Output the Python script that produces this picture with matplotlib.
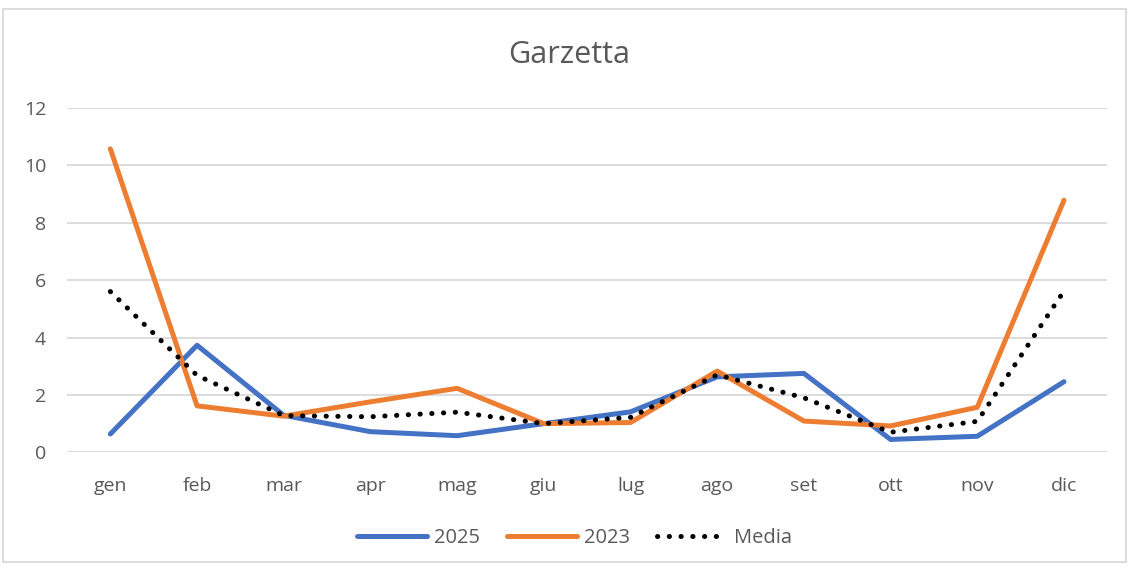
import matplotlib.pyplot as plt
from matplotlib.patches import Rectangle

months = ['gen', 'feb', 'mar', 'apr', 'mag', 'giu', 'lug', 'ago', 'set', 'ott', 'nov', 'dic']
y2025 = [0.64, 3.73, 1.29, 0.72, 0.58, 1.0, 1.41, 2.63, 2.75, 0.45, 0.56, 2.46]
y2023 = [10.57, 1.62, 1.26, 1.76, 2.23, 1.0, 1.04, 2.83, 1.09, 0.92, 1.57, 8.78]
media = [5.6, 2.68, 1.28, 1.24, 1.4, 1.0, 1.22, 2.7, 1.9, 0.7, 1.08, 5.62]

plt.rcParams['font.family'] = ['Open Sans', 'DejaVu Sans']
grey = '#595959'

fig = plt.figure(figsize=(11.32, 5.69), dpi=100)
ax = fig.add_axes([0.0592, 0.205, 0.919, 0.6055])

x = range(len(months))
ax.plot(x, y2025, color='#4472C4', lw=3.6, solid_capstyle='round', solid_joinstyle='round', label='2025')
ax.plot(x, y2023, color='#ED7D31', lw=3.6, solid_capstyle='round', solid_joinstyle='round', label='2023')
ax.plot(x, media, color='black', lw=3.6, linestyle=(0, (0.05, 2.3)), dash_capstyle='round', label='Media')

ax.set_xlim(-0.5, 11.5)
ax.set_ylim(0, 12)
ax.set_yticks(range(0, 13, 2))
ax.set_xticks(list(x))
ax.set_xticklabels(months)
ax.grid(axis='y', color='#D9D9D9', lw=1.3)
ax.set_axisbelow(True)
for s in ax.spines.values():
    s.set_visible(False)
ax.tick_params(length=0, labelsize=14, labelcolor=grey)
ax.tick_params(axis='x', pad=17.5)
ax.tick_params(axis='y', pad=15)

fig.text(0.503, 0.903, 'Garzetta', ha='center', va='center', fontsize=22, color=grey)

fig.legend(loc='center', bbox_to_anchor=(0.5075, 0.055), ncol=3, frameon=False,
           fontsize=14.5, labelcolor=grey, handlelength=3.5, handletextpad=0.35,
           columnspacing=1.3)

fig.patches.append(Rectangle((0.003, 0.012), 0.992, 0.973, transform=fig.transFigure,
                             fill=False, edgecolor='#D9D9D9', lw=1.3))

fig.savefig('out.png', dpi=100)
